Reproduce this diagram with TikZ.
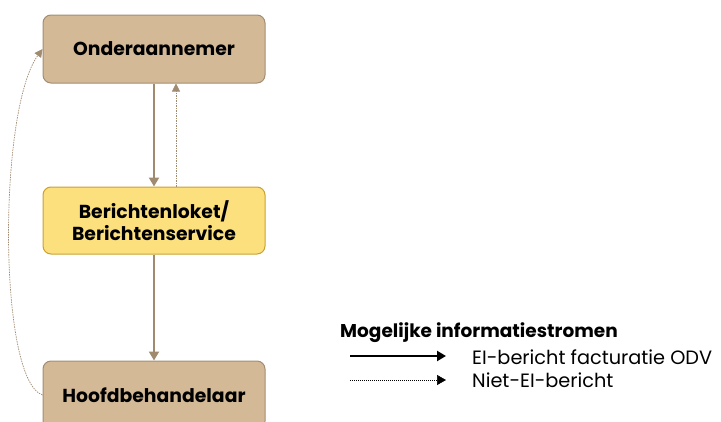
\documentclass[tikz,border=0pt]{standalone}
\usepackage{fontspec}
\setmainfont{Poppins}
\usetikzlibrary{arrows.meta}
\definecolor{boxtan}{HTML}{D4B996}
\definecolor{boxtanline}{HTML}{A28D74}
\definecolor{boxyel}{HTML}{FCE07E}
\definecolor{boxyelline}{HTML}{C9A230}
\definecolor{arrowtan}{HTML}{A08A70}
\tikzset{
  entity/.style={rounded corners=8pt, minimum width=222pt, minimum height=68pt, line width=1pt, align=center, font=\fontsize{18.8}{22.5}\selectfont\bfseries, inner sep=0pt},
  tanbox/.style={entity, fill=boxtan, draw=boxtanline},
  yelbox/.style={entity, fill=boxyel, draw=boxyelline},
  flowsolid/.style={draw=arrowtan, line width=2pt, -{Triangle[length=9pt,width=10pt]}},
  flowdot/.style={draw=arrowtan, line width=0.7pt, dash pattern=on 1.5pt off 1pt, -{Triangle[length=8pt,width=8pt]}},
  legsolid/.style={draw=black, line width=2.2pt, -{Triangle[length=9pt,width=10pt]}},
  legdot/.style={draw=black, line width=0.6pt, dash pattern=on 1.2pt off 0.8pt, -{Triangle[length=9pt,width=10pt]}},
  legtext/.style={anchor=west, inner sep=0pt, font=\fontsize{19.3}{22}\selectfont},
}
\begin{document}
\begin{tikzpicture}[x=1pt,y=-1pt]
\useasboundingbox (0,0) rectangle (721,421);
\clip (0,0) rectangle (721,421);
\node[tanbox] (onder) at (154,49) {Onderaannemer};
\node[yelbox, minimum height=67pt] (ber) at (154,220.5) {Berichtenloket/\\Berichtenservice};
\node[tanbox] (hoofd) at (154,395) {Hoofdbehandelaar};
\draw[flowsolid] (onder.south) -- (ber.north);
\draw[flowsolid] (ber.south) -- (hoofd.north);
\draw[flowdot] ([xshift=22pt]ber.north) -- ([xshift=22pt]onder.south);
\draw[flowdot] (hoofd.west) .. controls (-2,380) and (-2,110) .. (onder.west);
\node[legtext, font=\fontsize{18.5}{22}\selectfont\bfseries] (legtitle) at (340,333) {Mogelijke informatiestromen};
\coordinate (s1) at (350,356);
\coordinate (e1) at (446,356);
\coordinate (s2) at (350,380);
\coordinate (e2) at (446,380);
\draw[legsolid] (s1) -- (e1);
\draw[legdot] (s2) -- (e2);
\node[legtext] (l1) at (472,357) {EI-bericht facturatie ODV};
\node[legtext] (l2) at (472,380) {Niet-EI-bericht};
\end{tikzpicture}
\end{document}
